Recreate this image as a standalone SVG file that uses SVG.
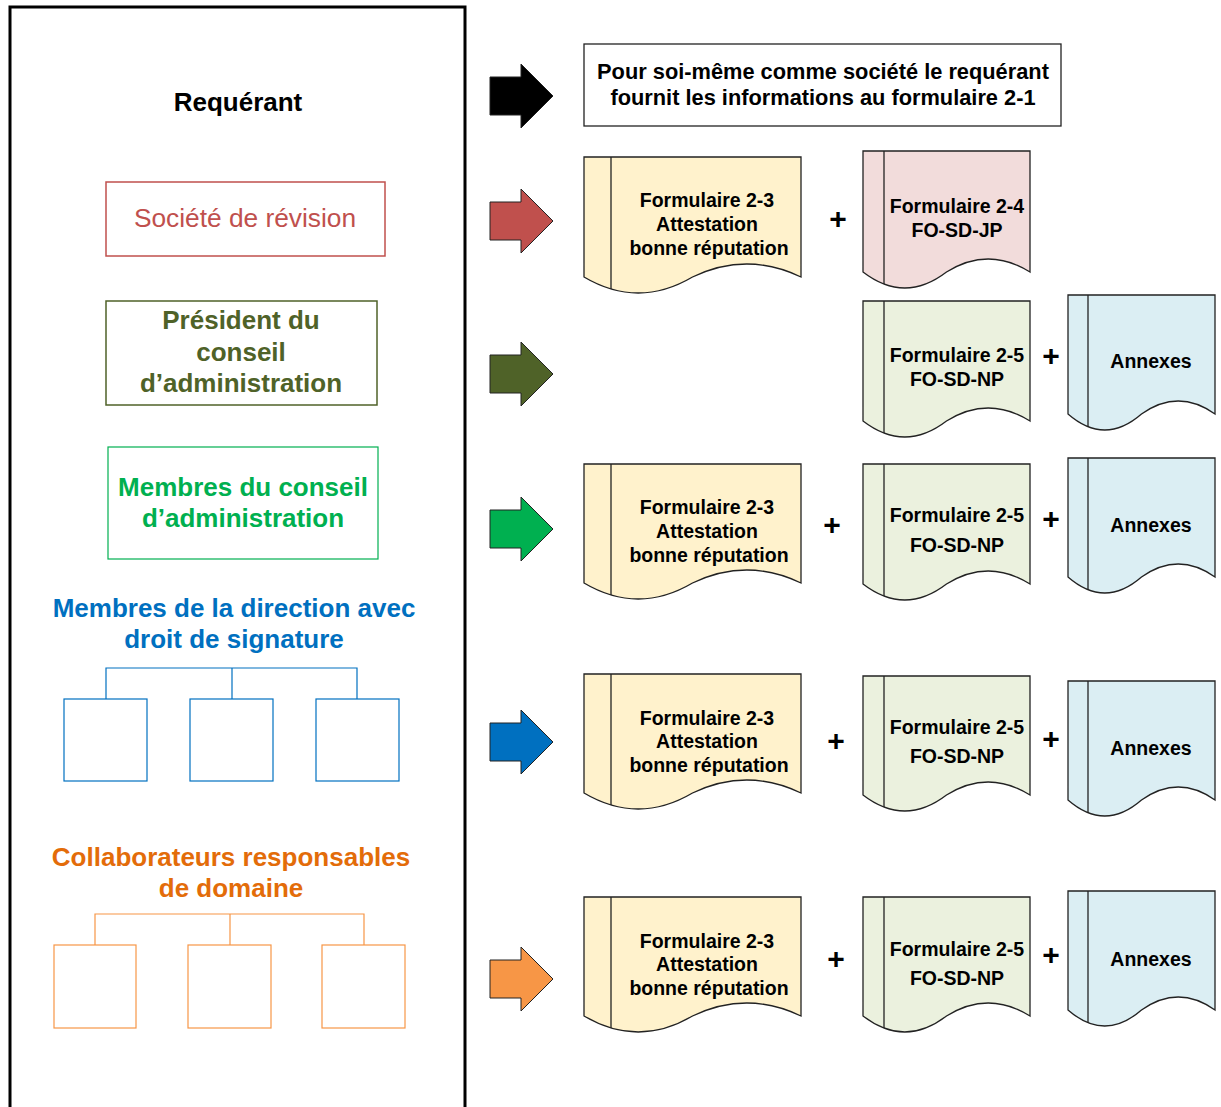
<svg xmlns="http://www.w3.org/2000/svg" width="1221" height="1107" viewBox="0 0 1221 1107">
<style>
text{font-family:"Liberation Sans",Arial,sans-serif;text-anchor:middle}
.t{font-size:19.5px;font-weight:bold;fill:#000}
.l{font-size:26px;font-weight:bold}
.plus{font-size:30px;font-weight:bold;fill:#000}
.doc{stroke:#222;stroke-width:1.3}
.in{stroke:#222;stroke-width:1.3;fill:none}
.y{fill:#fff2cc}.p{fill:#f2dcdb}.g{fill:#ebf1de}.b{fill:#dbeef3}
.arr{stroke:#222;stroke-width:1}
</style>
<defs>
<path id="arrow" d="M-31,-19 H0 V-32 L32,0 L0,32 V19 H-31 Z"/>
</defs>
<rect x="0" y="0" width="1221" height="1107" fill="#fff"/>

<g id="panel">
<path d="M10,1110 V7 H465 V1110" fill="none" stroke="#000" stroke-width="3"/>
<text x="238" y="111" class="l" fill="#000">Requérant</text>
</g>

<g id="societe">
<rect x="106" y="182" width="279" height="74" fill="#fff" stroke="#c0504d" stroke-width="1.5"/>
<text x="245" y="227" style="font-size:26.3px" fill="#c0504d">Société de révision</text>
</g>

<g id="president">
<rect x="106" y="301" width="271" height="104" fill="#fff" stroke="#4f6228" stroke-width="1.5"/>
<text class="l" fill="#4f6228"><tspan x="241" y="329">Président du</tspan><tspan x="241" y="361">conseil</tspan><tspan x="241" y="392">d’administration</tspan></text>
</g>

<g id="membres-conseil">
<rect x="108" y="447" width="270" height="112" fill="#fff" stroke="#00b050" stroke-width="1.2"/>
<text class="l" fill="#00b050"><tspan x="243" y="496">Membres du conseil</tspan><tspan x="243" y="527">d’administration</tspan></text>
</g>

<g id="direction">
<text class="l" fill="#0070c0"><tspan x="234" y="617">Membres de la direction avec</tspan><tspan x="234" y="648">droit de signature</tspan></text>
<g fill="#fff" stroke="#0070c0" stroke-width="1.2">
<path d="M106,699 V668 H357 V699 M232,668 V699" fill="none"/>
<rect x="64" y="699" width="83" height="82"/>
<rect x="190" y="699" width="83" height="82"/>
<rect x="316" y="699" width="83" height="82"/>
</g>
</g>

<g id="collaborateurs">
<text class="l" fill="#e36c09"><tspan x="231" y="866">Collaborateurs responsables</tspan><tspan x="231" y="897">de domaine</tspan></text>
<g fill="#fff" stroke="#f79646" stroke-width="1.2">
<path d="M95,945 V914 H364 V945 M230,914 V945" fill="none"/>
<rect x="54" y="945" width="82" height="83"/>
<rect x="188" y="945" width="83" height="83"/>
<rect x="322" y="945" width="83" height="83"/>
</g>
</g>

<g id="connectors">
<use href="#arrow" x="521" y="96" fill="#000" class="arr"/>
<use href="#arrow" x="521" y="221" fill="#c0504d" class="arr"/>
<use href="#arrow" x="521" y="374" fill="#4f6228" class="arr"/>
<use href="#arrow" x="521" y="529" fill="#00b050" class="arr"/>
<use href="#arrow" x="521" y="742" fill="#0070c0" class="arr"/>
<use href="#arrow" x="521" y="979" fill="#f79646" class="arr"/>
<g class="plus">
<text x="838" y="229">+</text>
<text x="1051" y="366">+</text>
<text x="832" y="535">+</text>
<text x="1051" y="529">+</text>
<text x="836" y="751">+</text>
<text x="1051" y="749">+</text>
<text x="836" y="969">+</text>
<text x="1051" y="965">+</text>
</g>
</g>

<g id="box-top">
<rect x="584" y="44" width="477" height="82" fill="#fff" stroke="#222" stroke-width="1.3"/>
<text class="t" style="font-size:21.8px"><tspan x="823" y="79">Pour soi-même comme société le requérant</tspan><tspan x="823" y="105">fournit les informations au formulaire 2-1</tspan></text>
</g>

<!-- Row 1 -->
<g id="r1-f23">
<path class="doc y" d="M584,157 H801 V277 Q746.75,251 692.5,277 Q638.25,309 584,277 Z"/>
<path class="in" d="M611,157 V289"/>
<text class="t"><tspan x="707" y="207">Formulaire 2-3</tspan><tspan x="707" y="231">Attestation</tspan><tspan x="709" y="255">bonne réputation</tspan></text>
</g>
<g id="r1-f24">
<path class="doc p" d="M863,151 H1030 V272 Q988.25,246 946.5,272 Q904.75,304 863,272 Z"/>
<path class="in" d="M884,151 V284"/>
<text class="t"><tspan x="957" y="213">Formulaire 2-4</tspan><tspan x="957" y="237">FO-SD-JP</tspan></text>
</g>

<!-- Row 2 -->
<g id="r2-f25">
<path class="doc g" d="M863,301 H1030 V421 Q988.25,395 946.5,421 Q904.75,453 863,421 Z"/>
<path class="in" d="M884,301 V433"/>
<text class="t"><tspan x="957" y="362">Formulaire 2-5</tspan><tspan x="957" y="386">FO-SD-NP</tspan></text>
</g>
<g id="r2-annexes">
<path class="doc b" d="M1068,295 H1215 V414 Q1178.25,388 1141.5,414 Q1104.75,446 1068,414 Z"/>
<path class="in" d="M1088,295 V427"/>
<text class="t" x="1151" y="368">Annexes</text>
</g>

<!-- Row 3 -->
<g id="r3-f23">
<path class="doc y" d="M584,464 H801 V583 Q746.75,557 692.5,583 Q638.25,615 584,583 Z"/>
<path class="in" d="M611,464 V595"/>
<text class="t"><tspan x="707" y="514">Formulaire 2-3</tspan><tspan x="707" y="538">Attestation</tspan><tspan x="709" y="562">bonne réputation</tspan></text>
</g>
<g id="r3-f25">
<path class="doc g" d="M863,464 H1030 V584 Q988.25,558 946.5,584 Q904.75,616 863,584 Z"/>
<path class="in" d="M884,464 V596"/>
<text class="t"><tspan x="957" y="522">Formulaire 2-5</tspan><tspan x="957" y="552">FO-SD-NP</tspan></text>
</g>
<g id="r3-annexes">
<path class="doc b" d="M1068,458 H1215 V577 Q1178.25,551 1141.5,577 Q1104.75,609 1068,577 Z"/>
<path class="in" d="M1088,458 V590"/>
<text class="t" x="1151" y="532">Annexes</text>
</g>

<!-- Row 4 -->
<g id="r4-f23">
<path class="doc y" d="M584,674 H801 V793 Q746.75,767 692.5,793 Q638.25,825 584,793 Z"/>
<path class="in" d="M611,674 V805"/>
<text class="t"><tspan x="707" y="725">Formulaire 2-3</tspan><tspan x="707" y="748">Attestation</tspan><tspan x="709" y="772">bonne réputation</tspan></text>
</g>
<g id="r4-f25">
<path class="doc g" d="M863,676 H1030 V795 Q988.25,769 946.5,795 Q904.75,827 863,795 Z"/>
<path class="in" d="M884,676 V807"/>
<text class="t"><tspan x="957" y="734">Formulaire 2-5</tspan><tspan x="957" y="763">FO-SD-NP</tspan></text>
</g>
<g id="r4-annexes">
<path class="doc b" d="M1068,681 H1215 V800 Q1178.25,774 1141.5,800 Q1104.75,832 1068,800 Z"/>
<path class="in" d="M1088,681 V813"/>
<text class="t" x="1151" y="755">Annexes</text>
</g>

<!-- Row 5 -->
<g id="r5-f23">
<path class="doc y" d="M584,897 H801 V1016 Q746.75,990 692.5,1016 Q638.25,1048 584,1016 Z"/>
<path class="in" d="M611,897 V1028"/>
<text class="t"><tspan x="707" y="948">Formulaire 2-3</tspan><tspan x="707" y="971">Attestation</tspan><tspan x="709" y="995">bonne réputation</tspan></text>
</g>
<g id="r5-f25">
<path class="doc g" d="M863,897 H1030 V1016 Q988.25,990 946.5,1016 Q904.75,1048 863,1016 Z"/>
<path class="in" d="M884,897 V1028"/>
<text class="t"><tspan x="957" y="956">Formulaire 2-5</tspan><tspan x="957" y="985">FO-SD-NP</tspan></text>
</g>
<g id="r5-annexes">
<path class="doc b" d="M1068,891 H1215 V1010 Q1178.25,984 1141.5,1010 Q1104.75,1042 1068,1010 Z"/>
<path class="in" d="M1088,891 V1023"/>
<text class="t" x="1151" y="966">Annexes</text>
</g>
</svg>
